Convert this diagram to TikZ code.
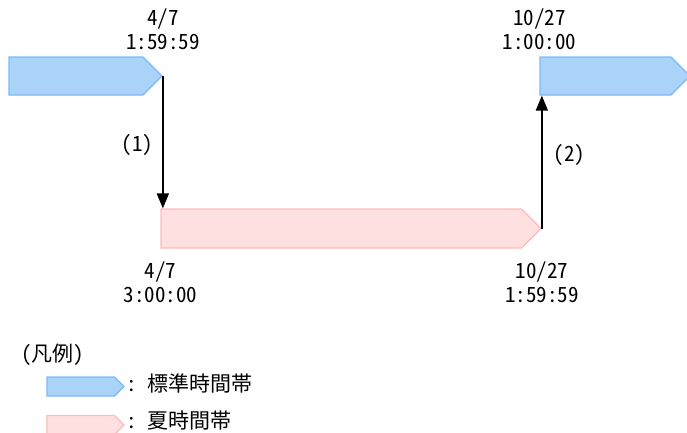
\documentclass[tikz,border=0pt]{standalone}
\usepackage{fontspec}
\setmainfont{Noto Sans CJK JP}[RawFeature=+hwid]
\usepackage{tikz}
\usetikzlibrary{shapes.symbols, arrows.meta, positioning}
\definecolor{stdblue}{HTML}{AAD3FA}
\definecolor{stdedge}{HTML}{7DB9F2}
\definecolor{dstpink}{HTML}{FFE0E1}
\definecolor{dstedge}{HTML}{FFBABA}
\tikzstyle{band} = [signal, signal to=east, signal pointer angle=90, inner sep=0pt, line width=1.2pt]
\tikzstyle{stdband} = [band, draw=stdedge, fill=stdblue, minimum height=38pt]
\tikzstyle{dstband} = [band, draw=dstedge, fill=dstpink, minimum height=39pt]
\tikzstyle{stamp} = [inner sep=0pt, align=center, font=\fontsize{21}{24}\selectfont]
\tikzstyle{arrow} = [-{Triangle[length=15pt, width=12pt]}, line width=1.7pt, color=black]

\begin{document}
\begin{tikzpicture}[x=1pt, y=-1pt]
    \useasboundingbox (0,0) rectangle (687,432);
    \clip (0,0) rectangle (687,432);

    % Time bands
    \node[stdband, minimum width=153pt] (std1) at (76,76) {};
    \node[stdband, minimum width=150pt] (std2) at (605.5,76) {};
    \node[dstband, minimum width=380pt] (dst) at (341.25,228.5) {};
    \coordinate (dstend) at (dst.east |- dst.south);

    % Switch times
    \node[stamp, above=26pt of std1.east] (start1) {4/7\\1:59:59};
    \node[stamp, above=26pt of std2.west] (end1) {10/27\\1:00:00};
    \node[stamp, below=13pt of dst.south west] (start2) {4/7\\3:00:00};
    \node[stamp, below=13pt of dstend] (end2) {10/27\\1:59:59};

    % Arrows
    \draw[arrow] (std1.east) -- (std1.east |- dst.north) node[stamp, pos=0.52, left=9pt] (step1) {(1)};
    \draw[arrow] (dst.east) -- (dst.east |- std2.south) node[stamp, pos=0.55, right=11pt] (step2) {(2)};

    % Legend
    \node[stamp, anchor=west] (legend) at (21,355) {(凡例)};
    \node[stdband, minimum width=77pt, minimum height=19pt] (keystd) at (80.75,386.5) {};
    \node[stamp, right=1pt of keystd, yshift=3pt] (keystdtext) {:\hspace{0.5em}標準時間帯};
    \node[dstband, minimum width=77pt, minimum height=19pt] (keydst) at (80.75,425) {};
    \node[stamp, right=1pt of keydst, yshift=4pt] (keydsttext) {:\hspace{0.5em}夏時間帯};
  \end{tikzpicture}
\end{document}
